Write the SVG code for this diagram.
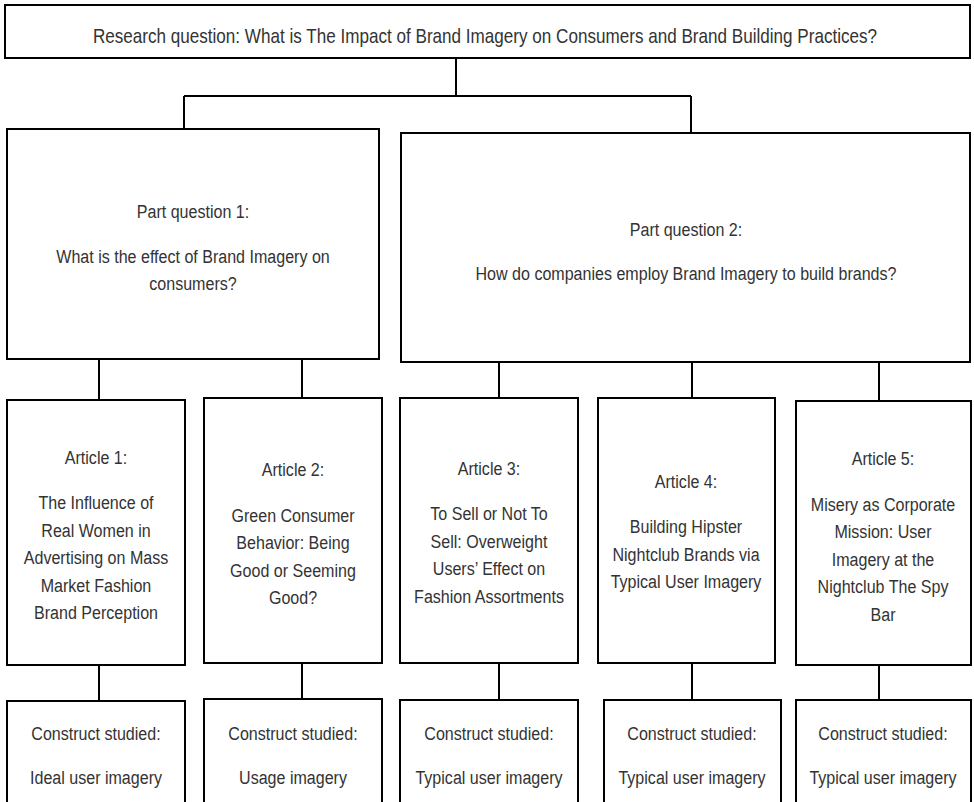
<svg xmlns="http://www.w3.org/2000/svg" width="974" height="802" viewBox="0 0 974 802">
<style>
.box{fill:#fff;stroke:#000;stroke-width:2}
.ln{fill:none;stroke:#000;stroke-width:2}
text{font-family:"Liberation Sans",Arial,sans-serif;font-size:19px;fill:#333;text-anchor:middle}
</style>
<rect width="974" height="802" fill="#fff"/>
<g id="connectors">
<path class="ln" d="M456,58V96M184,96H691M184,96V129M691,96V133"/>
<path class="ln" d="M99,359V400M302,359V398"/>
<path class="ln" d="M499,362V398M692,362V398M879,362V401"/>
<path class="ln" d="M99,665V701M302,663V699M499,663V700M692,663V700M879,665V700"/>
</g>
<g id="rq"><rect class="box" x="5" y="5" width="965" height="53"/>
<text transform="translate(485 43) scale(0.855 1)" style="font-size:20px">Research question: What is The Impact of Brand Imagery on Consumers and Brand Building Practices?</text></g>
<g id="pq1"><rect class="box" x="7" y="129" width="372" height="230"/>
<text transform="translate(193 218) scale(0.845 1)">Part question 1:</text>
<text transform="translate(193 263) scale(0.845 1)">What is the effect of Brand Imagery on</text>
<text transform="translate(193 290) scale(0.845 1)">consumers?</text></g>
<g id="pq2"><rect class="box" x="401" y="133" width="569" height="229"/>
<text transform="translate(686 236) scale(0.845 1)">Part question 2:</text>
<text transform="translate(686 280) scale(0.845 1)">How do companies employ Brand Imagery to build brands?</text></g>
<g id="a1"><rect class="box" x="7" y="400" width="178" height="265"/>
<text transform="translate(96 464) scale(0.845 1)">Article 1:</text>
<text transform="translate(96 509) scale(0.845 1)">The Influence of</text>
<text transform="translate(96 537) scale(0.845 1)">Real Women in</text>
<text transform="translate(96 564) scale(0.845 1)">Advertising on Mass</text>
<text transform="translate(96 592) scale(0.845 1)">Market Fashion</text>
<text transform="translate(96 619) scale(0.845 1)">Brand Perception</text></g>
<g id="a2"><rect class="box" x="204" y="398" width="178" height="265"/>
<text transform="translate(293 476) scale(0.845 1)">Article 2:</text>
<text transform="translate(293 522) scale(0.845 1)">Green Consumer</text>
<text transform="translate(293 549) scale(0.845 1)">Behavior: Being</text>
<text transform="translate(293 577) scale(0.845 1)">Good or Seeming</text>
<text transform="translate(293 604) scale(0.845 1)">Good?</text></g>
<g id="a3"><rect class="box" x="400" y="398" width="178" height="265"/>
<text transform="translate(489 475) scale(0.845 1)">Article 3:</text>
<text transform="translate(489 520) scale(0.845 1)">To Sell or Not To</text>
<text transform="translate(489 548) scale(0.845 1)">Sell: Overweight</text>
<text transform="translate(489 575) scale(0.845 1)">Users’ Effect on</text>
<text transform="translate(489 603) scale(0.845 1)">Fashion Assortments</text></g>
<g id="a4"><rect class="box" x="598" y="398" width="177" height="265"/>
<text transform="translate(686 488) scale(0.845 1)">Article 4:</text>
<text transform="translate(686 533) scale(0.845 1)">Building Hipster</text>
<text transform="translate(686 561) scale(0.845 1)">Nightclub Brands via</text>
<text transform="translate(686 588) scale(0.845 1)">Typical User Imagery</text></g>
<g id="a5"><rect class="box" x="796" y="401" width="175" height="264"/>
<text transform="translate(883 465) scale(0.845 1)">Article 5:</text>
<text transform="translate(883 511) scale(0.845 1)">Misery as Corporate</text>
<text transform="translate(883 538) scale(0.845 1)">Mission: User</text>
<text transform="translate(883 566) scale(0.845 1)">Imagery at the</text>
<text transform="translate(883 593) scale(0.845 1)">Nightclub The Spy</text>
<text transform="translate(883 621) scale(0.845 1)">Bar</text></g>
<g id="c1"><rect class="box" x="7" y="701" width="178" height="110"/>
<text transform="translate(96 740) scale(0.845 1)">Construct studied:</text>
<text transform="translate(96 784) scale(0.845 1)">Ideal user imagery</text></g>
<g id="c2"><rect class="box" x="204" y="699" width="178" height="112"/>
<text transform="translate(293 740) scale(0.845 1)">Construct studied:</text>
<text transform="translate(293 784) scale(0.845 1)">Usage imagery</text></g>
<g id="c3"><rect class="box" x="400" y="700" width="178" height="111"/>
<text transform="translate(489 740) scale(0.845 1)">Construct studied:</text>
<text transform="translate(489 784) scale(0.845 1)">Typical user imagery</text></g>
<g id="c4"><rect class="box" x="604" y="700" width="177" height="111"/>
<text transform="translate(692 740) scale(0.845 1)">Construct studied:</text>
<text transform="translate(692 784) scale(0.845 1)">Typical user imagery</text></g>
<g id="c5"><rect class="box" x="796" y="700" width="175" height="111"/>
<text transform="translate(883 740) scale(0.845 1)">Construct studied:</text>
<text transform="translate(883 784) scale(0.845 1)">Typical user imagery</text></g>
</svg>
